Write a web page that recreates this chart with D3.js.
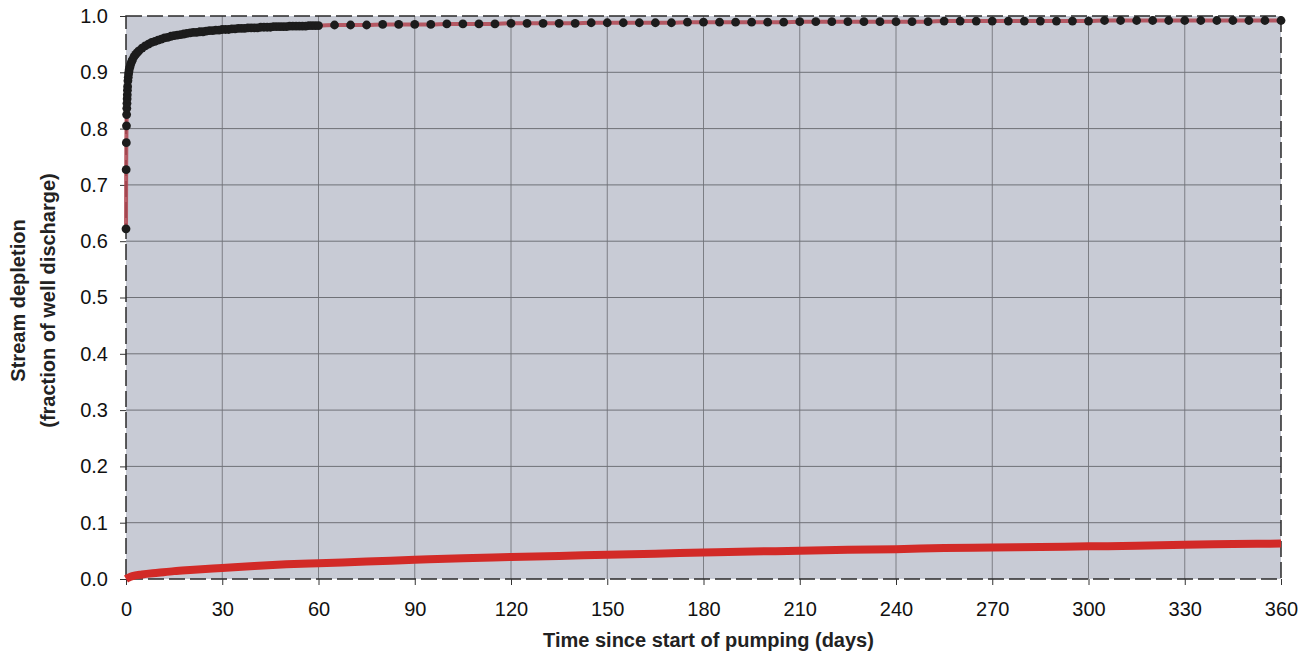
<!DOCTYPE html>
<html>
<head>
<meta charset="utf-8">
<script src="https://cdn.jsdelivr.net/npm/d3@7"></script>
<style>
  body { margin: 0; background: #fff; }
  text { font-family: "Liberation Sans", Arial, sans-serif; }
</style>
</head>
<body>
<div id="container"></div>
<script>
let w = 1303;
let h = 656;
let margin = {left: 126, right: 22, top: 16, bottom: 77};

// black series with red connector: early sub-day points, then daily to 60, then every 5 days
let nearTimes = [0, 0.05, 0.1, 0.15, 0.2, 0.25, 0.3, 0.35, 0.4, 0.45, 0.5, 0.6, 0.7, 0.8, 0.9, 1.25, 1.5, 1.75, 2.5, 3.5];
let nearValues = [0.622, 0.727, 0.775, 0.805, 0.825, 0.836, 0.845, 0.853, 0.86, 0.868, 0.875, 0.885, 0.891, 0.897, 0.901, 0.910, 0.915, 0.919, 0.928, 0.935];

let dailyTimes = d3.range(1, 61);
let dailyValues = [
  0.905, 0.922, 0.932, 0.938, 0.943, 0.947, 0.950, 0.953, 0.955, 0.957,
  0.959, 0.961, 0.962, 0.964, 0.965, 0.966, 0.967, 0.968, 0.969, 0.970,
  0.971, 0.971, 0.972, 0.972, 0.973, 0.974, 0.974, 0.975, 0.975, 0.976,
  0.976, 0.976, 0.977, 0.977, 0.978, 0.978, 0.978, 0.979, 0.979, 0.979,
  0.979, 0.980, 0.980, 0.980, 0.980, 0.981, 0.981, 0.981, 0.981, 0.981,
  0.982, 0.982, 0.982, 0.982, 0.982, 0.982, 0.983, 0.983, 0.983, 0.983
];

let laterTimes = d3.range(65, 361, 5);
let laterValues = [
  0.984, 0.984, 0.984, 0.985, 0.985, 0.985, 0.985, 0.986, 0.986, 0.986,
  0.986, 0.987, 0.987, 0.987, 0.987, 0.987, 0.988, 0.988, 0.988, 0.988,
  0.988, 0.988, 0.989, 0.989, 0.989, 0.989, 0.989, 0.989, 0.989, 0.990,
  0.990, 0.990, 0.990, 0.990, 0.990, 0.990, 0.990, 0.990, 0.991, 0.991,
  0.991, 0.991, 0.991, 0.991, 0.991, 0.991, 0.991, 0.991, 0.992, 0.992,
  0.992, 0.992, 0.992, 0.992, 0.992, 0.992, 0.992, 0.992, 0.992, 0.992
];

// lower red series
let lowTimes = [0, 1, 2, 5, 10, 15, 20, 30, 40, 50, 60, 75, 90, 105, 120, 135, 150, 165, 180, 195, 210, 225, 240, 255, 270, 285, 300, 315, 330, 345, 360];
let lowValues = [0, 0.003, 0.005, 0.008, 0.011, 0.014, 0.016, 0.0195, 0.023, 0.026, 0.028, 0.031, 0.034, 0.037, 0.039, 0.041, 0.043, 0.045, 0.047, 0.049, 0.050, 0.052, 0.053, 0.055, 0.056, 0.057, 0.058, 0.059, 0.061, 0.062, 0.063];

let xTicks = d3.range(0, 361, 30);
let yTicks = d3.range(0, 11).map(d => d / 10);

let viz = d3.select("#container").append("svg")
    .attr("width", w)
    .attr("height", h);

let xScale = d3.scaleLinear().domain([0, 360]).range([margin.left, w - margin.right]);
let yScale = d3.scaleLinear().domain([0, 1]).range([h - margin.bottom, margin.top]);

let x0 = xScale(0), x1 = xScale(360), y0 = yScale(0), y1 = yScale(1);

// plot background
viz.append("rect")
  .attr("x", x0).attr("y", y1)
  .attr("width", x1 - x0).attr("height", y0 - y1)
  .attr("fill", "#c8cbd5");

// grid
viz.append("g").selectAll("line").data(xTicks.slice(1, -1)).enter().append("line")
  .attr("x1", d => xScale(d)).attr("x2", d => xScale(d))
  .attr("y1", y1).attr("y2", y0)
  .attr("stroke", "#7c7e84").attr("stroke-width", 1);
viz.append("g").selectAll("line").data(yTicks.slice(1, -1)).enter().append("line")
  .attr("x1", x0).attr("x2", x1)
  .attr("y1", d => yScale(d)).attr("y2", d => yScale(d))
  .attr("stroke", "#6f7177").attr("stroke-width", 1);

// dashed border
viz.append("rect")
  .attr("x", x0).attr("y", y1)
  .attr("width", x1 - x0).attr("height", y0 - y1)
  .attr("fill", "none")
  .attr("stroke", "#2a2a2a")
  .attr("stroke-width", 1.5)
  .attr("stroke-dasharray", "16,5");

// axes
let xAxis = d3.axisBottom(xScale).tickValues(xTicks).tickSize(6).tickPadding(17).tickFormat(d3.format("d"));
let yAxis = d3.axisLeft(yScale).tickValues(yTicks).tickSize(6).tickPadding(12).tickFormat(d3.format(".1f"));

let gx = viz.append("g").attr("transform", "translate(0," + y0 + ")").call(xAxis);
let gy = viz.append("g").attr("transform", "translate(" + x0 + ",0)").call(yAxis);
[gx, gy].forEach(g => {
  g.select(".domain").remove();
  g.selectAll(".tick line").attr("stroke", "#333");
  g.selectAll(".tick text")
    .attr("fill", "#111")
    .style("font-size", "20px")
    .style("font-family", "'Liberation Sans', Arial, sans-serif");
});

// lower red curve
let lowData = lowTimes.map((t, i) => ({t: t, v: lowValues[i]}));
let line = d3.line().x(d => xScale(d.t)).y(d => yScale(d.v)).curve(d3.curveMonotoneX);

viz.append("path")
  .datum(lowData)
  .attr("d", line)
  .attr("fill", "none")
  .attr("stroke", "#d22a27")
  .attr("stroke-width", 8)
  .attr("stroke-linecap", "butt");

// upper curve: red connector plus black markers
let highTimes = nearTimes.concat(dailyTimes, laterTimes);
let highValues = nearValues.concat(dailyValues, laterValues);
let highData = highTimes.map((t, i) => ({t: t, v: highValues[i]}))
  .sort((a, b) => a.t - b.t);

viz.append("path")
  .datum(highData)
  .attr("d", line)
  .attr("fill", "none")
  .attr("stroke", "#b0444f")
  .attr("stroke-opacity", 0.85)
  .attr("stroke-width", 4);

viz.append("g").selectAll("circle").data(highData).enter().append("circle")
  .attr("cx", d => xScale(d.t))
  .attr("cy", d => yScale(d.v))
  .attr("r", 4.4)
  .attr("fill", "#1c1c1c");

// axis titles
viz.append("text")
  .attr("x", (x0 + x1) / 2 + 5)
  .attr("y", 647)
  .attr("text-anchor", "middle")
  .style("font-size", "20px")
  .style("font-weight", "bold")
  .attr("fill", "#222")
  .text("Time since start of pumping (days)");

let yTitle = viz.append("text")
  .attr("transform", "translate(0," + ((y0 + y1) / 2 + 3) + ") rotate(-90)")
  .attr("text-anchor", "middle")
  .style("font-size", "20px")
  .style("font-weight", "bold")
  .attr("fill", "#222");
yTitle.append("tspan").attr("x", 0).attr("y", 25).text("Stream depletion");
yTitle.append("tspan").attr("x", 0).attr("y", 55).text("(fraction of well discharge)");
</script>
</body>
</html>
